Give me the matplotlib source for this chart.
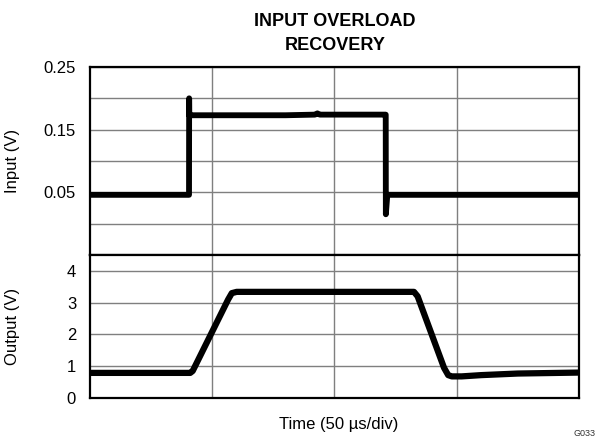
import matplotlib
matplotlib.use("Agg")
import matplotlib.pyplot as plt
from matplotlib.ticker import FixedLocator, NullFormatter

plt.rcParams['font.family'] = ['Liberation Sans', 'DejaVu Sans']

# ---- data (time in microseconds, 50 us/div) ----
input_time = [0, 40.5, 40.55, 40.6, 41.3, 80, 92, 93, 94, 120.9, 120.95, 121.0, 121.6, 200]
input_v = [0.046, 0.046, 0.200, 0.173, 0.173, 0.173, 0.174, 0.176, 0.174, 0.174, 0.174, 0.015, 0.046, 0.046]

output_time = [0, 41.0, 42.0, 56.5, 58.0, 60.0, 132.5, 134.0, 144.8, 146.5, 148.0, 152.0, 160.0, 175.0, 200.0]
output_v = [0.79, 0.79, 0.85, 3.10, 3.30, 3.34, 3.34, 3.20, 0.95, 0.72, 0.68, 0.68, 0.72, 0.77, 0.80]

input_ticks = [0.05, 0.15, 0.25]
input_tick_labels = ["0.05", "0.15", "0.25"]
output_ticks = [0, 1, 2, 3, 4]
output_tick_labels = ["0", "1", "2", "3", "4"]

W, H = 597, 438
fig = plt.figure(figsize=(W / 100, H / 100), dpi=100)

left = 90 / W
width = (579 - 90) / W
ax1 = fig.add_axes([left, 1 - 255 / H, width, (255 - 67) / H])
ax2 = fig.add_axes([left, 1 - 398 / H, width, (398 - 255) / H])

grid_kw = dict(color="#7f7f7f", linewidth=1.0)
for ax in (ax1, ax2):
    ax.set_xlim(0, 200)
    ax.xaxis.set_major_locator(FixedLocator([50, 100, 150]))
    ax.xaxis.set_major_formatter(NullFormatter())
    ax.tick_params(axis='both', which='both', length=0)
    ax.tick_params(axis='y', labelsize=12, pad=10)
    ax.grid(True, which='both', **grid_kw)
    ax.set_axisbelow(True)
    for s in ax.spines.values():
        s.set_linewidth(1.6)
        s.set_color("black")

# input panel
ax1.set_ylim(-0.05, 0.25)
ax1.yaxis.set_major_locator(FixedLocator(input_ticks))
ax1.set_yticklabels(input_tick_labels)
ax1.yaxis.set_minor_locator(FixedLocator([0.0, 0.1, 0.2]))
ax1.plot(input_time, input_v, color="black", linewidth=4.2,
         solid_joinstyle="round", solid_capstyle="butt")

# output panel
ax2.set_ylim(0, 4.5)
ax2.yaxis.set_major_locator(FixedLocator(output_ticks))
ax2.set_yticklabels(output_tick_labels)
ax2.plot(output_time, output_v, color="black", linewidth=4.5, solid_joinstyle="round")

ax1.set_ylabel("Input (V)", fontsize=12)
ax2.set_ylabel("Output (V)", fontsize=12)
ax1.yaxis.set_label_coords(-(90 - 20) / (579 - 90), 0.5)
ax2.yaxis.set_label_coords(-(90 - 20) / (579 - 90), 0.5)

fig.text(335 / W, 1 - 33.5 / H, "INPUT OVERLOAD\nRECOVERY", ha="center", va="center",
         fontsize=13, fontweight="bold", linespacing=1.6)
fig.text(339 / W, 1 - 425 / H, "Time (50 \u00b5s/div)", ha="center", va="center", fontsize=12)
fig.text(596 / W, 1 - 433 / H, "G033", ha="right", va="center", fontsize=6.5, color="#333333")

fig.savefig("out.png", dpi=100)
